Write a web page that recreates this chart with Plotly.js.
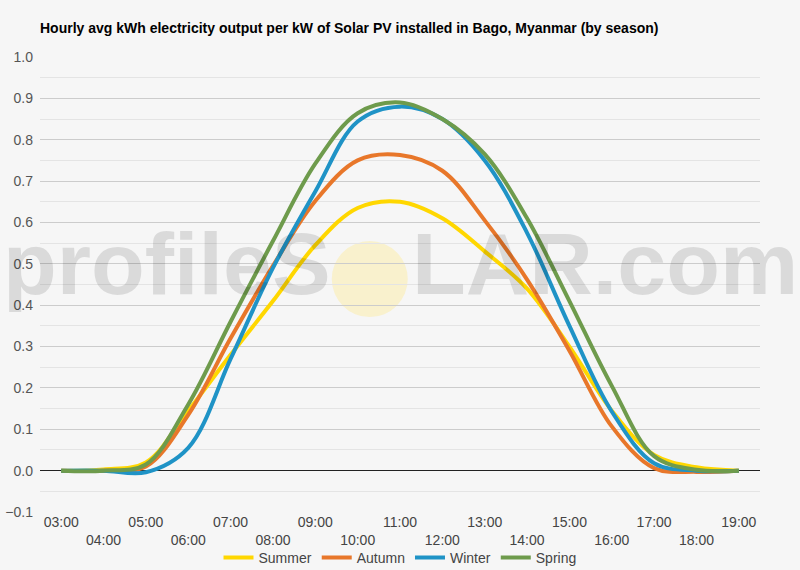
<!DOCTYPE html>
<html>
<head>
<meta charset="utf-8">
<script src="https://cdn.plot.ly/plotly-3.0.1.min.js"></script>
<style>
  html, body { margin: 0; padding: 0; background: #f6f6f6; }
  #chart { width: 800px; height: 570px; }
</style>
</head>
<body>
<div id="chart"></div>
<script>
// Hourly values (kWh per kW installed)
var hours = ['03:00', '04:00', '05:00', '06:00', '07:00', '08:00', '09:00', '10:00', '11:00',
  '12:00', '13:00', '14:00', '15:00', '16:00', '17:00', '18:00', '19:00'];

var summer = [0, 0.003, 0.02, 0.145, 0.28, 0.41, 0.545, 0.635, 0.65, 0.61, 0.53, 0.44, 0.30, 0.145, 0.038, 0.008, 0];
var autumn = [0, 0, 0.01, 0.135, 0.32, 0.495, 0.652, 0.75, 0.763, 0.725, 0.605, 0.462, 0.29, 0.107, 0.006, -0.003, 0];
var winter = [0, 0, -0.004, 0.055, 0.27, 0.49, 0.675, 0.844, 0.88, 0.85, 0.75, 0.575, 0.35, 0.143, 0.018, 0, 0];
var spring = [0, 0, 0.015, 0.16, 0.36, 0.555, 0.742, 0.864, 0.89, 0.85, 0.765, 0.61, 0.41, 0.205, 0.035, 0.002, 0];

var seriesNames = ['Summer', 'Autumn', 'Winter', 'Spring'];
var seriesColors = ['#ffd700', '#e8772a', '#1f93c6', '#6e9b4c'];

// odd hours on the first row, even hours pushed to a second row
var tickText = hours.map(function (h, i) { return i % 2 === 0 ? h : '<br>' + h; });

var traces = [summer, autumn, winter, spring].map(function (vals, i) {
  return {
    type: 'scatter',
    mode: 'lines',
    name: seriesNames[i],
    x: hours,
    y: vals,
    line: { color: seriesColors[i], width: 4, shape: 'spline', smoothing: 1 },
    hoverinfo: 'x+y+name'
  };
});

var wmFont = { family: 'Liberation Sans, Arial, sans-serif', size: 88, weight: 'bold', color: 'rgba(0,0,0,0.115)' };

var layout = {
  width: 800,
  height: 570,
  paper_bgcolor: '#f6f6f6',
  plot_bgcolor: '#f6f6f6',
  margin: { l: 40, r: 40, t: 57, b: 58, autoexpand: false },
  font: { family: 'Liberation Sans, Arial, sans-serif', size: 14, color: '#444' },
  title: {
    text: '<b>Hourly avg kWh electricity output per kW of Solar PV installed in Bago, Myanmar (by season)</b>',
    font: { family: 'Liberation Sans, Arial, sans-serif', size: 14, color: '#000' },
    xref: 'paper', x: 0, xanchor: 'left',
    yref: 'container', y: 1 - 28 / 570, yanchor: 'middle'
  },
  xaxis: {
    type: 'category',
    range: [-0.5, 16.5],
    tickmode: 'array',
    tickvals: hours,
    ticktext: tickText,
    showgrid: false,
    zeroline: false,
    showline: false,
    ticks: '',
    tickfont: { size: 14, color: '#444' }
  },
  yaxis: {
    range: [-0.1, 1.0],
    dtick: 0.1,
    tick0: 0,
    tickformat: '.1f',
    showgrid: true,
    gridcolor: '#cccccc',
    gridwidth: 1,
    minor: { dtick: 0.05, showgrid: true, gridcolor: '#e4e4e4', gridwidth: 1 },
    zeroline: true,
    zerolinecolor: '#222',
    zerolinewidth: 1,
    ticks: '',
    ticklabelstandoff: 6,
    tickfont: { size: 14, color: '#555' }
  },
  showlegend: true,
  legend: {
    orientation: 'h',
    x: 0.5, xanchor: 'center',
    y: -0.101, yanchor: 'middle',
    bgcolor: 'rgba(0,0,0,0)',
    font: { size: 14, color: '#444' },
    traceorder: 'normal'
  },
  shapes: [
    {
      type: 'circle', layer: 'below',
      xref: 'paper', yref: 'paper',
      xsizemode: 'pixel', ysizemode: 'pixel',
      xanchor: 0.458, yanchor: 0.512,
      x0: -38, x1: 38, y0: -38, y1: 38,
      fillcolor: 'rgba(255,232,130,0.35)',
      line: { width: 0 }
    }
  ],
  annotations: [
    {
      text: 'profileS', xref: 'paper', yref: 'paper',
      x: 0.407, xanchor: 'right', y: 0.547, yanchor: 'middle',
      showarrow: false, font: wmFont
    },
    {
      text: 'LAR.com', xref: 'paper', yref: 'paper',
      x: 0.514, xanchor: 'left', y: 0.547, yanchor: 'middle',
      showarrow: false, font: wmFont
    }
  ]
};

Plotly.newPlot('chart', traces, layout, { displayModeBar: false, responsive: false });
</script>
</body>
</html>
